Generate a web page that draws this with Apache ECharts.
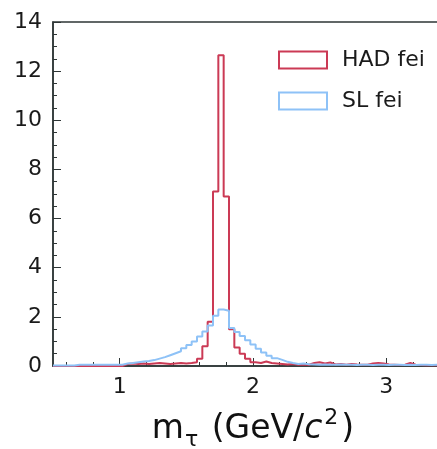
<!DOCTYPE html>
<html lang="en">
<head>
    <meta charset="UTF-8">
    <title>m_tau</title>
    <style>
        html, body {margin: 0; padding: 0; background: #fff;}
    </style>
</head>
<body>
<div id="main" style="width: 437px;height: 449px"></div>
<script src="https://cdn.jsdelivr.net/npm/echarts@6/dist/echarts.min.js"></script>
<script>
    // histogram binning (left edge of first bin, bin width, last edge)
    const binStart = 0.5
    const binWidth = 0.04
    const binEnd = 3.5

    // HAD fei, one value per bin
    const hadFei = [
        0, 0, 0, 0, 0, 0, 0, 0, 0, 0, 0, 0, 0,
        0.08, 0.1, 0.08, 0.1, 0.08, 0.1, 0.12, 0.1, 0.08, 0.1, 0.12, 0.1, 0.12, 0.15,
        0.3, 0.8, 1.8, 7.1, 12.65, 6.9, 1.5, 0.75, 0.5, 0.3, 0.15,
        0.12, 0.18, 0.12, 0.1, 0.08, 0.06, 0.08, 0.05, 0.06, 0.05, 0.12, 0.15, 0.1, 0.14,
        0.06, 0.08, 0.05, 0.08, 0.06, 0.05, 0.05, 0.1, 0.12, 0.1, 0.06, 0.05, 0.04, 0.05,
        0.12, 0.05, 0.04, 0.03, 0.03, 0.03, 0.03, 0.03, 0.03
    ]

    // SL fei, one value per bin
    const slFei = [
        0.02, 0.02, 0.02, 0.02, 0.05, 0.05, 0.05, 0.05, 0.05, 0.05, 0.05, 0.05, 0.05,
        0.1, 0.12, 0.15, 0.18, 0.2, 0.24, 0.3, 0.36, 0.44, 0.52, 0.6, 0.72, 0.85, 1.0,
        1.2, 1.4, 1.65, 2.05, 2.3, 2.25, 1.55, 1.38, 1.22, 1.05, 0.88,
        0.7, 0.55, 0.42, 0.32, 0.25, 0.17, 0.12, 0.08, 0.1, 0.07, 0.06, 0.05, 0.06, 0.05,
        0.05, 0.06, 0.05, 0.05, 0.04, 0.05, 0.05, 0.04, 0.05, 0.05, 0.04, 0.05, 0.05, 0.04,
        0.05, 0.04, 0.05, 0.05, 0.04, 0.05, 0.05, 0.04, 0.05
    ]

    const xMajorTicks = [1, 2, 3]
    const xMinorTicks = [0.6, 0.8, 1.2, 1.4, 1.6, 1.8, 2.2, 2.4, 2.6, 2.8, 3.2, 3.4]

    const RED = '#cb3a55'
    const BLUE = '#8ec2f7'
    const FONT = 'DejaVu Sans'

    /**
     * turn bin values into step points: [left edge, value] + closing point
     */
    function toSteps(values) {
        let pts = values.map((v, i) => [+(binStart + i * binWidth).toFixed(2), v])
        pts.push([binEnd, values[values.length - 1]])
        return pts
    }

    let chart = echarts.init(document.getElementById('main'))
    let option = {
        animation: false,
        grid: {
            left: 53,
            top: 22,
            bottom: 83,
            right: -16,
            outerBoundsMode: 'none',
            containLabel: false,
            show: true,
            borderColor: '#2e3636',
            borderWidth: 1.5
        },
        legend: {
            orient: 'vertical',
            left: 273,
            top: 44,
            itemWidth: 48,
            itemHeight: 17,
            itemGap: 19,
            icon: 'rect',
            textStyle: {fontFamily: FONT, fontSize: 22, color: '#1a1a1a', padding: [0, 0, 0, 10]},
            data: [
                {name: 'HAD fei', itemStyle: {color: 'transparent', borderColor: RED, borderWidth: 2}},
                {name: 'SL fei', itemStyle: {color: 'transparent', borderColor: BLUE, borderWidth: 2}}
            ]
        },
        xAxis: [
            {
                type: 'value',
                min: binStart,
                max: binEnd,
                splitLine: {show: false},
                axisLine: {lineStyle: {color: '#2e3636', width: 1.5}},
                axisTick: {show: true, inside: true, length: 8, customValues: xMajorTicks, lineStyle: {color: '#2e3636'}},
                axisLabel: {customValues: xMajorTicks, fontFamily: FONT, fontSize: 22, color: '#1a1a1a', margin: 10},
                name: '{a|m}{s|τ}{a| (GeV/}{i|c}{p|2}{a|)}',
                nameLocation: 'middle',
                nameGap: 41,
                nameTextStyle: {
                    rich: {
                        a: {fontFamily: FONT, fontSize: 33, color: '#111', lineHeight: 44},
                        i: {fontFamily: FONT, fontSize: 33, fontStyle: 'italic', color: '#111', lineHeight: 44},
                        s: {fontFamily: FONT, fontSize: 22, color: '#111', lineHeight: 44, verticalAlign: 'bottom', padding: [0, 3, 0, 1]},
                        p: {fontFamily: FONT, fontSize: 22, color: '#111', lineHeight: 44, verticalAlign: 'top', padding: [0, 3, 0, 2]}
                    }
                }
            },
            {
                type: 'value',
                min: binStart,
                max: binEnd,
                position: 'bottom',
                splitLine: {show: false},
                axisLine: {show: false},
                axisTick: {show: true, inside: true, length: 4, customValues: xMinorTicks, lineStyle: {color: '#2e3636'}},
                axisLabel: {show: false}
            }
        ],
        yAxis: {
            type: 'value',
            min: 0,
            max: 14,
            interval: 2,
            splitLine: {show: false},
            axisLine: {show: true, lineStyle: {color: '#2e3636', width: 1.5}},
            axisTick: {show: true, inside: true, length: 8, lineStyle: {color: '#2e3636'}},
            minorTick: {show: true, splitNumber: 4, length: 4, lineStyle: {color: '#2e3636'}},
            axisLabel: {fontFamily: FONT, fontSize: 22, color: '#1a1a1a', margin: 11}
        },
        series: [
            {
                name: 'HAD fei',
                type: 'line',
                step: 'end',
                showSymbol: false,
                lineStyle: {color: RED, width: 2},
                itemStyle: {color: RED},
                data: toSteps(hadFei)
            },
            {
                name: 'SL fei',
                type: 'line',
                step: 'end',
                showSymbol: false,
                lineStyle: {color: BLUE, width: 2},
                itemStyle: {color: BLUE},
                data: toSteps(slFei)
            }
        ]
    }
    chart.setOption(option)
</script>
</body>
</html>
